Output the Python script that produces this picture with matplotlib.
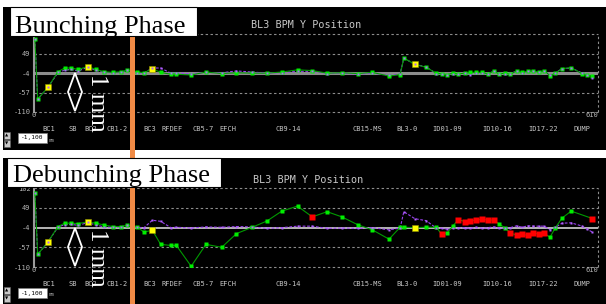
import numpy as np
import matplotlib
matplotlib.use("Agg")
import matplotlib.pyplot as plt
from matplotlib.patches import Rectangle, Polygon

# BPM positions along the line (display units, 0..610)
bpm_s = [1, 4, 15, 26, 33, 40, 48, 58, 67, 76,
         85, 94, 101, 111, 119, 128, 137, 148, 154, 170,
         186, 203, 219, 236, 252, 268, 285, 301, 317, 333,
         350, 366, 384, 396, 400, 412, 424, 435, 441, 447,
         453, 459, 466, 472, 478, 485, 491, 497, 503, 509,
         515, 522, 528, 534, 540, 546, 552, 558, 564, 571,
         581, 593, 598, 604]

# bunching phase (top)
bunch_green = [88, -75, -43, 0, 10, 10, 6, 14, 6, 0,
               -2, 0, 4, 0, -3, 8, -2, -7, -7, -9,
               -1, -5, -3, -4, -4, -1, 5, 3, -4, -3,
               -5, -2, -12, -8, 37, 20, 12, -4, -6, -8,
               -4, -6, -4, -2, -2, -2, -6, 1.5, -6, -4,
               -7, 2, -2, 1, 1, -1, 3, -11, -4, 8.5,
               11, -6, -10, -12]
bunch_purple = [88, -75, -43, -2, 4, 6, 2, 12, 4, -2,
                -3, -2, 4, -3, -4, 10, 10, -4, -3, -6,
                -2, -3, 2, -1, -4, -3, 1, 1, -5, -4,
                -7, -4, -10, -6, 37, 20, 13, -5, -7, -8,
                -5, -7, -4, -8, -4, -4, -7, 2, -5, -6,
                -6, 2, -4, 1, 1, -1, 1, -10, -3, 8,
                10, -4, -8, -16]

# debunching phase (bottom), nan = no reading shown
nan = float("nan")
debunch_green = [88, -76, -43, -1, 8, 8, 7, 11.5, 8, 3,
                 -1, -1, 2.5, -1.5, -16, -11, -49, -52, -52, -108,
                 -49, -57, -20, -3, 14, 40.5, 54, 25, 39, 25,
                 4, -10, -35, -3, -3, -4, -3, -3, -22, -17.6,
                 0.6, 17.8, 12.3, 15, 16, 18.8, 16, 17, 6, -4,
                 -17.6, -24.8, -22, -24.8, -17.6, -22, -19, -30, -4, 21.6,
                 40.6, nan, nan, 20.5]
debunch_purple = [88, -76, -43, -2, 4, 5, 2, 10, 3, -2,
                  -3, -2, 2, -3, -4, 16, 13, -4, -3, -5,
                  -2, -3, -1, -2, -6, -4, 0, 0, -6, -5,
                  -6, -4, -10, -5, 39, 20, 15, -5, -6, -8,
                  -6, -5, -4, -6, -3, -6, -4, -2, -5, -6,
                  -4, 1, -3, 1, 0, 0, 0, -10, -3, 8,
                  9, 0, -8, -16]

bunch_yellow = [15, 58, 128, 412]
debunch_yellow = [15, 58, 128, 412]
debunch_red = [301, 441, 459, 466, 472, 478, 485, 491, 497,
               515, 522, 528, 534, 540, 546, 552, 604]

sections = ["BC1", "SB", "BC2", "CB1-2", "BC3", "RFDEF", "CB5-7", "EFCH",
            "CB9-14", "CB15-MS", "BL3-0", "ID01-09", "ID10-16", "ID17-22", "DUMP"]
section_s = [16, 42, 61, 90, 125, 149, 183, 210, 275, 361, 403, 447, 501, 551, 593]

y_ticks = [102, 49, -4, -57, -110]

W, H = 606, 304
MONO = "DejaVu Sans Mono"


def fx(px):
    return px / W


def fy(py):
    return 1 - py / H


fig = plt.figure(figsize=(W / 100, H / 100), dpi=100)
fig.patch.set_facecolor("white")


def rect(x0, y0, x1, y1, **kw):
    kw.setdefault("transform", fig.transFigure)
    r = Rectangle((fx(x0), fy(y1)), (x1 - x0) / W, (y1 - y0) / H, **kw)
    fig.add_artist(r)
    return r


def panel(ytop_px, ybot_px, green, purple, yellow, red, zero_color, zero_lw, gms,
          show_top_tick=True):
    s = np.array(bpm_s, float)
    g = np.array(green, float)
    p = np.array(purple, float)
    ax = fig.add_axes([fx(34), fy(ybot_px), fx(598) - fx(34), (ybot_px - ytop_px) / H])
    ax.set_facecolor("none")
    ax.set_xlim(0, 610)
    ax.set_ylim(-110, 102)
    for sp in ax.spines.values():
        sp.set_visible(False)
    ax.spines["left"].set_visible(True)
    ax.spines["left"].set_color("#9a9a9a")
    ax.spines["left"].set_linewidth(1.5)

    for v in (102, 49, -57, -110):
        ax.axhline(v, color="#8c8c8c", lw=0.8, ls=(0, (2.2, 2.2)), clip_on=False, zorder=1)
    ax.axvline(610, color="#8c8c8c", lw=0.8, ls=(0, (2.2, 2.2)), clip_on=False, zorder=1)
    ax.axhline(-4, color=zero_color, lw=zero_lw, zorder=1.5)

    ax.plot(s, p, ls=(0, (2.5, 1.5)), color="#9a40f0", lw=0.8, zorder=2)
    m = ~np.isnan(g)
    ax.plot(s[m], g[m], "-", color="#009a00", lw=0.8, zorder=3)
    ax.plot(s[m], g[m], "s", ms=gms, mfc="#00ee00", mec="none", zorder=4)
    lookup = dict(zip(bpm_s, green))
    ax.plot(yellow, [lookup[k] for k in yellow], "s", ms=3.8, mfc="#ffff00",
            mec="#909000", mew=0.4, zorder=5)
    if red:
        ax.plot(red, [lookup[k] for k in red], "s", ms=3.8, mfc="#ff0000", mec="none", zorder=5)
    ax.plot(s, p, "s", ms=2.0, mfc="#b060ff", mec="none", zorder=6, clip_on=False)

    ax.set_yticks(y_ticks)
    labels = [str(v) for v in y_ticks]
    if not show_top_tick:
        labels[0] = ""
    ax.set_yticklabels(labels)
    ax.set_xticks(section_s)
    ax.set_xticklabels(sections)
    ax.tick_params(axis="y", length=0, pad=2.5, labelsize=5, labelcolor="#b4b4b4")
    ax.tick_params(axis="x", length=0, pad=10, labelsize=5, labelcolor="#c8c8c8")
    for lab in ax.get_xticklabels() + ax.get_yticklabels():
        lab.set_family(MONO)
    ax.text(0, -110, "0", ha="center", va="top",
            fontsize=5, color="#b4b4b4", family=MONO)
    ax.text(603, -110, "610", ha="center", va="top", fontsize=5,
            color="#b4b4b4", family=MONO)
    return ax


def controls(ytop):
    rect(18, ytop, 47, ytop + 10, fc="white", ec="#808080", lw=0.5, zorder=4)
    fig.text(fx(32.5), fy(ytop + 5), "-1,100", ha="center", va="center",
             fontsize=4.5, family=MONO, color="black", zorder=5)
    fig.text(fx(49), fy(ytop + 7), "mm", ha="left", va="center",
             fontsize=3.5, family=MONO, color="#909090", zorder=5)
    rect(4, ytop - 1, 10, ytop + 6, fc="#c8c8c8", ec="#606060", lw=0.4, zorder=4)
    rect(4, ytop + 7, 10, ytop + 14, fc="#c8c8c8", ec="#606060", lw=0.4, zorder=4)
    fig.text(fx(7), fy(ytop + 2.5), "\u25b2", ha="center", va="center", fontsize=3,
             color="black", zorder=5)
    fig.text(fx(7), fy(ytop + 10.5), "\u25bc", ha="center", va="center", fontsize=3,
             color="black", zorder=5)


def scale_marker(ytip):
    pts = [(75, ytip), (68, ytip + 19), (75, ytip + 38), (82, ytip + 19)]
    fig.add_artist(Polygon([(fx(a), fy(b)) for a, b in pts], closed=True,
                           transform=fig.transFigure, fc="none", ec="white",
                           lw=1.3, zorder=6))
    fig.text(fx(97), fy(ytip + 1), "1 mm", rotation=270, ha="center", va="top",
             family="Liberation Serif", fontsize=18, color="white", zorder=7)


# black screen areas
rect(3, 7, 606, 150, fc="black", ec="none", zorder=-2)
rect(3, 158, 606, 304, fc="black", ec="none", zorder=-2)

panel(34.3, 112, bunch_green, bunch_purple, bunch_yellow, [], "#8c8c8c", 2.2, 2.3,
      show_top_tick=False)
panel(188.3, 267, debunch_green, debunch_purple, debunch_yellow, debunch_red,
      "#e6e6e6", 1.1, 2.8)

fig.text(fx(306), fy(25), "BL3 BPM Y Position", ha="center", va="center",
         family=MONO, fontsize=7.3, color="#c8c8c8")
fig.text(fx(308), fy(180), "BL3 BPM Y Position", ha="center", va="center",
         family=MONO, fontsize=7.3, color="#c8c8c8")

controls(133)
controls(288)

scale_marker(73)
scale_marker(228)

# orange marker bar across both screens
rect(130, 37, 135, 304, fc="#f08a45", ec="none", zorder=8)

# phase labels
rect(10, 7, 197, 36, fc="white", ec="black", lw=0.8, zorder=9)
fig.text(fx(15), fy(33), "Bunching Phase", ha="left", va="baseline",
         family="Liberation Serif", fontsize=19, color="black", zorder=10)
rect(7, 158, 221, 187, fc="white", ec="black", lw=0.8, zorder=9)
fig.text(fx(13), fy(182), "Debunching Phase", ha="left", va="baseline",
         family="Liberation Serif", fontsize=19, color="black", zorder=10)

fig.savefig("out.png", dpi=100, facecolor="white")
